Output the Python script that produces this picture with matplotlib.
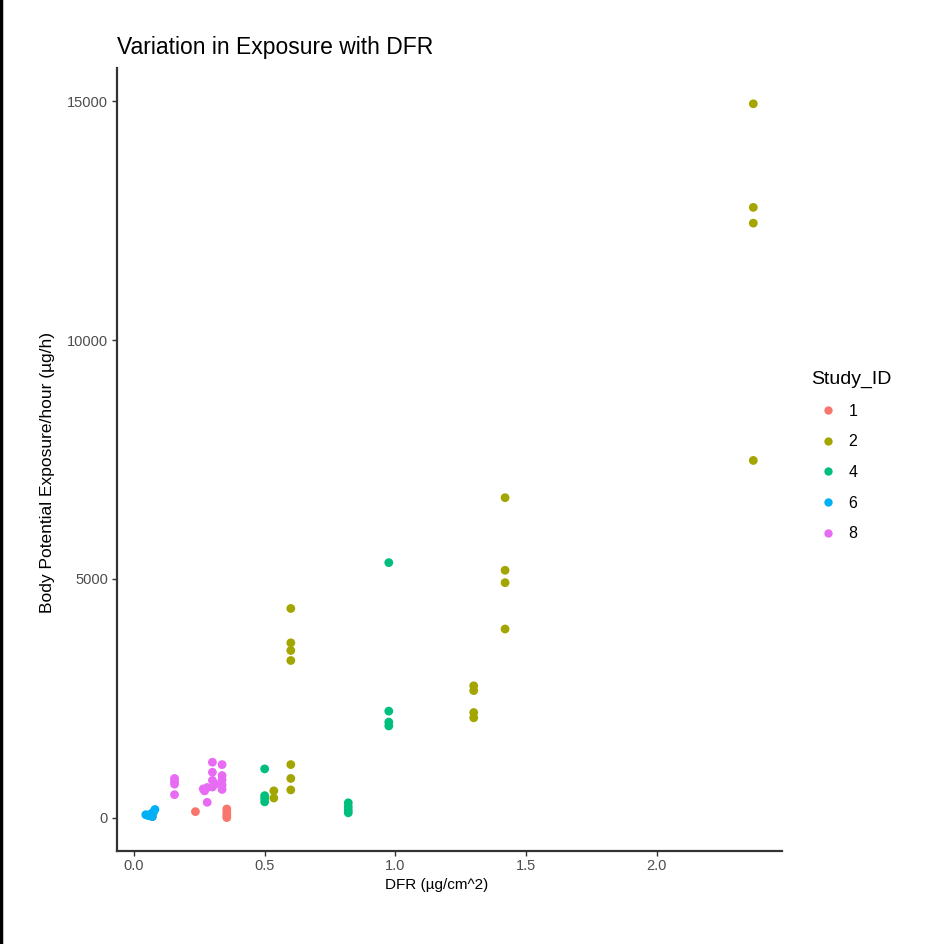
import matplotlib
matplotlib.use('Agg')
import matplotlib.pyplot as plt
from matplotlib.lines import Line2D

plt.rcParams['font.family'] = ['Liberation Sans', 'DejaVu Sans']

# values
study_ids = ['1', '2', '4', '6', '8']
colours = ['#F8766D', '#A3A500', '#00BF7D', '#00B0F6', '#E76BF3']

dfr_1 = [0.235, 0.355, 0.355, 0.355, 0.355, 0.07]
exp_1 = [125, 180, 110, 50, 0, 20]

dfr_2 = [2.37, 2.37, 2.37, 2.37,
         1.42, 1.42, 1.42, 1.42,
         1.30, 1.30, 1.30, 1.30,
         0.60, 0.60, 0.60, 0.60, 0.60, 0.60, 0.60,
         0.535, 0.535]
exp_2 = [14950, 12780, 12450, 7480,
         6700, 5180, 4920, 3950,
         2760, 2660, 2200, 2090,
         4380, 3660, 3500, 3290, 1110, 820, 580,
         560, 410]

dfr_4 = [0.975, 0.975, 0.975, 0.975,
         0.50, 0.50, 0.50, 0.50,
         0.82, 0.82, 0.82, 0.82]
exp_4 = [5340, 2230, 2000, 1920,
         1020, 460, 400, 330,
         310, 230, 160, 100]

dfr_6 = [0.045, 0.055, 0.065, 0.075, 0.08, 0.07]
exp_6 = [60, 40, 80, 120, 170, 20]

dfr_8 = [0.155, 0.155, 0.155, 0.155,
         0.30, 0.30, 0.30, 0.28, 0.27, 0.28, 0.30, 0.31, 0.265,
         0.337, 0.337, 0.337, 0.337, 0.337]
exp_8 = [820, 760, 700, 480,
         1160, 950, 780, 630, 560, 320, 640, 700, 600,
         1110, 880, 790, 680, 590]

series_dfr = [dfr_1, dfr_2, dfr_4, dfr_6, dfr_8]
series_exp = [exp_1, exp_2, exp_4, exp_6, exp_8]

fig = plt.figure(figsize=(9.5, 9.44), dpi=100)
ax = fig.add_axes([0.1232, 0.0985, 0.7, 0.8295])

for sid, c, xs, ys in zip(study_ids, colours, series_dfr, series_exp):
    ax.scatter(xs, ys, s=40, color=c, edgecolors='none', label=sid, zorder=3)

ax.set_xlim(-0.065, 2.48)
ax.set_ylim(-700, 15700)
ax.set_xticks([0.0, 0.5, 1.0, 1.5, 2.0])
ax.set_xticklabels(['0.0', '0.5', '1.0', '1.5', '2.0'])
ax.set_yticks([0, 5000, 10000, 15000])

for side in ['top', 'right']:
    ax.spines[side].set_visible(False)
for side in ['left', 'bottom']:
    ax.spines[side].set_color('#333333')
    ax.spines[side].set_linewidth(1.6)

ax.tick_params(axis='both', colors='#333333', labelcolor='#4D4D4D',
               labelsize=10.5, length=3.5, width=1.0, pad=3)
ax.tick_params(axis='x', pad=2)

ax.set_xlabel('DFR (µg/cm^2)', fontsize=11, color='black')
ax.xaxis.set_label_coords(0.48, -0.035)
ax.set_ylabel('Body Potential Exposure/hour (µg/h)', fontsize=12.5, color='black')
ax.yaxis.set_label_coords(-0.094, 0.484)
ax.set_title('Variation in Exposure with DFR', fontsize=16.5, loc='left', pad=10)

handles = [Line2D([0], [0], marker='o', linestyle='none', markersize=6,
                  markerfacecolor=c, markeredgecolor='none') for c in colours]
leg = ax.legend(handles, study_ids, title='Study_ID', loc='upper left',
                bbox_to_anchor=(0.8475, 0.614), bbox_transform=fig.transFigure,
                frameon=False, fontsize=11.5, title_fontsize=14,
                labelspacing=0.98, handletextpad=0.2, handlelength=2.1,
                borderaxespad=0)
leg._legend_box.align = 'left'

# black border at the left edge of the screenshot
fig.add_artist(Line2D([0.001, 0.001], [0, 1], color='black', linewidth=2.5,
                      transform=fig.transFigure))

fig.savefig('out.png', dpi=100, facecolor='white')
